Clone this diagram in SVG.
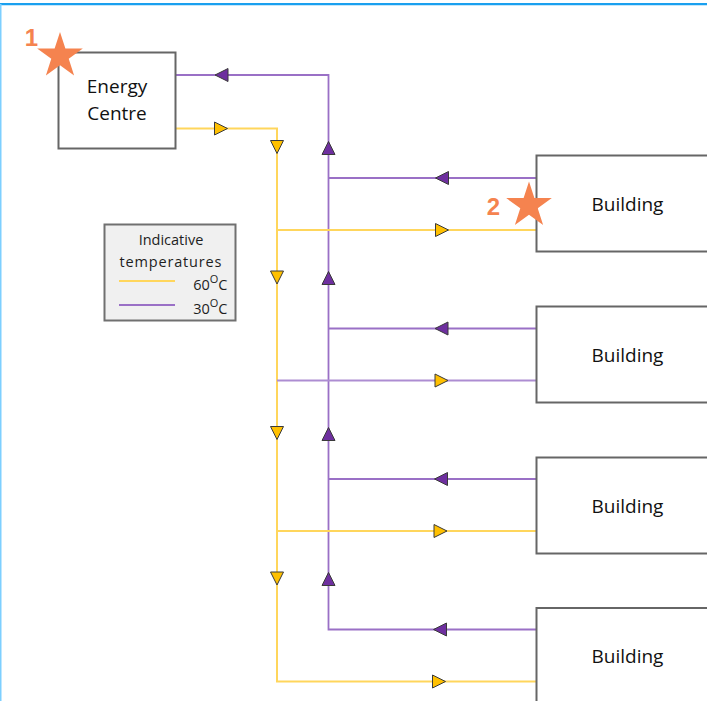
<svg xmlns="http://www.w3.org/2000/svg" width="707" height="701" viewBox="0 0 707 701">
<style>
.box{fill:#fff;stroke:#666;stroke-width:2}
.lbl{font-family:"Open Sans","Liberation Sans",sans-serif;font-size:19px;fill:#111;text-anchor:middle}
.leg{font-family:"Open Sans","Liberation Sans",sans-serif;font-size:14.5px;fill:#1e1e1e}
.hot{fill:none;stroke:#ffd65c;stroke-width:2}
.cold{fill:none;stroke:#9a70c6;stroke-width:1.8}
.ah{fill:#ffc000;stroke:#3a3a3a;stroke-width:1}
.ac{fill:#6e2f9f;stroke:#3a3a3a;stroke-width:1}
.star{fill:#f5834f}
.num{font-family:"Liberation Sans",Arial,sans-serif;font-weight:bold;font-size:24px;fill:#f5834f}
</style>
<defs>
<polygon id="tri" points="6.5,0 -6.5,-6.5 -6.5,6.5"/>
<polygon id="st" points="0,-24 5.39,-7.42 22.83,-7.42 8.72,2.83 14.11,19.42 0,9.17 -14.11,19.42 -8.72,2.83 -22.83,-7.42 -5.39,-7.42"/>
</defs>
<rect width="707" height="701" fill="#fff"/>
<line x1="0" y1="4.2" x2="707" y2="4.2" stroke="#1aa0ef" stroke-width="2.2"/>
<line x1="0.7" y1="4" x2="0.7" y2="701" stroke="#7dcfff" stroke-width="1.6"/>

<g id="connectors">
<polyline class="cold" points="176,75 328.5,75 328.5,629.5 536,629.5"/>
<line class="cold" x1="328.5" y1="178" x2="536" y2="178"/>
<line class="cold" x1="328.5" y1="328.5" x2="536" y2="328.5"/>
<line class="cold" x1="328.5" y1="479" x2="536" y2="479"/>
<polyline class="hot" points="176,128.5 277,128.5 277,681.5 536,681.5"/>
<line class="hot" x1="277" y1="230" x2="536" y2="230"/>
<line x1="277" y1="380.5" x2="536" y2="380.5" stroke="#ad8dd2" stroke-width="1.8"/>
<line class="hot" x1="277" y1="531" x2="536" y2="531"/>

<use href="#tri" class="ac" transform="translate(221.5,75) rotate(180)"/>
<use href="#tri" class="ah" transform="translate(221,128.5)"/>

<use href="#tri" class="ah" transform="translate(277,147) rotate(90)"/>
<use href="#tri" class="ah" transform="translate(277,277.5) rotate(90)"/>
<use href="#tri" class="ah" transform="translate(277,433) rotate(90)"/>
<use href="#tri" class="ah" transform="translate(277,578.5) rotate(90)"/>

<use href="#tri" class="ac" transform="translate(328.5,148) rotate(-90)"/>
<use href="#tri" class="ac" transform="translate(328.5,278) rotate(-90)"/>
<use href="#tri" class="ac" transform="translate(328.5,434) rotate(-90)"/>
<use href="#tri" class="ac" transform="translate(328.5,579) rotate(-90)"/>

<use href="#tri" class="ac" transform="translate(442,178) rotate(180)"/>
<use href="#tri" class="ac" transform="translate(441.5,328.5) rotate(180)"/>
<use href="#tri" class="ac" transform="translate(441,479) rotate(180)"/>
<use href="#tri" class="ac" transform="translate(440,629.5) rotate(180)"/>

<use href="#tri" class="ah" transform="translate(442,230)"/>
<use href="#tri" class="ah" transform="translate(441.5,380.5)"/>
<use href="#tri" class="ah" transform="translate(440.5,531)"/>
<use href="#tri" class="ah" transform="translate(439,681.5)"/>
</g>

<g id="energy-centre">
<rect class="box" x="58.5" y="52.5" width="117" height="96"/>
<text class="lbl" x="117" y="93">Energy</text>
<text class="lbl" x="117" y="120">Centre</text>
</g>

<g id="building-1">
<rect class="box" x="536.5" y="155.5" width="190" height="96"/>
<text class="lbl" x="627.5" y="210.5">Building</text>
</g>
<g id="building-2">
<rect class="box" x="536.5" y="306.5" width="190" height="96"/>
<text class="lbl" x="627.5" y="361.5">Building</text>
</g>
<g id="building-3">
<rect class="box" x="536.5" y="457.5" width="190" height="96"/>
<text class="lbl" x="627.5" y="512.5">Building</text>
</g>
<g id="building-4">
<rect class="box" x="536.5" y="608" width="190" height="120"/>
<text class="lbl" x="627.5" y="663">Building</text>
</g>

<g id="legend">
<rect x="104.5" y="224.5" width="131" height="96" fill="#f0f0f0" stroke="#707070" stroke-width="2"/>
<text class="leg" x="171" y="245" text-anchor="middle">Indicative</text>
<text class="leg" x="170.5" y="266.5" text-anchor="middle" textLength="102" lengthAdjust="spacing">temperatures</text>
<line x1="119" y1="281" x2="175" y2="281" stroke="#ffd65c" stroke-width="2"/>
<line x1="119" y1="305" x2="175" y2="305" stroke="#9a70c6" stroke-width="1.8"/>
<text class="leg" x="227.5" y="290" text-anchor="end">60<tspan font-size="11" dy="-7">O</tspan><tspan dy="7">C</tspan></text>
<text class="leg" x="227.5" y="314" text-anchor="end">30<tspan font-size="11" dy="-7">O</tspan><tspan dy="7">C</tspan></text>
</g>

<g id="marker-1">
<use href="#st" class="star" transform="translate(60,56)"/>
<text class="num" x="31.5" y="45.5" text-anchor="middle">1</text>
</g>
<g id="marker-2">
<use href="#st" class="star" transform="translate(529,205.5)"/>
<text class="num" x="493.5" y="215" text-anchor="middle">2</text>
</g>
</svg>
